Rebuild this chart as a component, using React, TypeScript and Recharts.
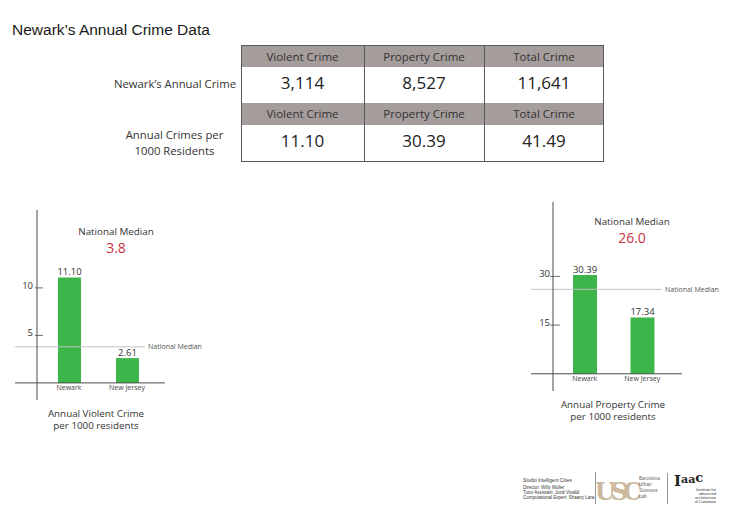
import React from 'react';
import { BarChart, Bar, XAxis, YAxis, ReferenceLine, LabelList } from 'recharts';

const categories = ['Newark', 'New Jersey'];
const violentPer1000 = [11.1, 2.61];
const propertyPer1000 = [30.39, 17.34];
const violentTicks = [5, 10];
const propertyTicks = [15, 30];
const violentMedian = 3.8;
const propertyMedian = 26.0;
const tableHeaders = ['Violent Crime', 'Property Crime', 'Total Crime'];
const annualCrimes = [3114, 8527, 11641];
const crimesPer1000 = [11.1, 30.39, 41.49];

const violentData = categories.map((name, i) => ({ name, value: violentPer1000[i] }));
const propertyData = categories.map((name, i) => ({ name, value: propertyPer1000[i] }));

const FONT = '"Open Sans", "Noto Sans", "DejaVu Sans", sans-serif';
const AXIS = '#4a4a4a';
const GREEN = '#3cb54a';
const RED = '#c4333f';
const TEXT = '#333333';
const HEADER_BG = '#a59c9c';

const makeYTick = (left: number, right: number, gap: number) => (props: any) => {
  const { x, y, payload } = props;
  return (
    <g>
      <line x1={x - left} x2={x + right} y1={y} y2={y} stroke={AXIS} strokeWidth={0.8} />
      <text x={x - gap} y={y + 1} textAnchor="end" fontSize={9.5} fill={TEXT}>
        {payload.value}
      </text>
    </g>
  );
};

const XTick = (props: any) => (
  <text x={props.x} y={props.y - 10} textAnchor="middle" fontSize={7} fill="#444">
    {props.payload.value}
  </text>
);

const baselineShape = (p: any) => (
  <line x1={p.x1 - 22} y1={p.y1} x2={p.x2} y2={p.y2} stroke={AXIS} strokeWidth={1} />
);

const medianShape = (p: any) => (
  <g>
    <line x1={p.x1 - 22} y1={p.y1} x2={p.x2 - 20} y2={p.y2} stroke="#c2c2c2" strokeWidth={1} />
    <text x={p.x2 - 17} y={p.y1 + 2.5} fontSize={7} fill="#555">
      National Median
    </text>
  </g>
);

const fmt2 = (v: any) => Number(v).toFixed(2);

// table geometry
const colX = [241, 364, 484, 604];
const rowY = [45, 67, 103, 125, 162];

export default function App() {
  return (
    <div
      style={{
        position: 'absolute',
        left: 0,
        top: 0,
        width: 730,
        height: 516,
        background: '#fff',
        overflow: 'hidden',
        fontFamily: FONT,
      }}
    >
      <svg width={730} height={516} style={{ position: 'absolute', left: 0, top: 0 }} fontFamily={FONT}>
        <text x={12} y={35} fontFamily='"Liberation Sans", Arial, sans-serif' fontSize={15.5} fill="#1a1a1a">
          Newark’s Annual Crime Data
        </text>

        {/* table */}
        <rect x={colX[0]} y={rowY[0]} width={colX[3] - colX[0]} height={rowY[1] - rowY[0]} fill={HEADER_BG} />
        <rect x={colX[0]} y={rowY[2]} width={colX[3] - colX[0]} height={rowY[3] - rowY[2]} fill={HEADER_BG} />
        <rect x={colX[0] + 0.5} y={rowY[0] + 0.5} width={colX[3] - colX[0] - 1} height={rowY[4] - rowY[0] - 1} fill="none" stroke="#5a5a5a" strokeWidth={1} />
        {[colX[1], colX[2]].map((cx) => (
          <line key={cx} x1={cx + 0.5} x2={cx + 0.5} y1={rowY[0]} y2={rowY[4]} stroke="#5a5a5a" strokeWidth={1} />
        ))}
        {tableHeaders.map((h, i) => (
          <g key={h}>
            <text x={(colX[i] + colX[i + 1]) / 2} y={61} textAnchor="middle" fontSize={11.5} fill={TEXT}>{h}</text>
            <text x={(colX[i] + colX[i + 1]) / 2} y={118} textAnchor="middle" fontSize={11.5} fill={TEXT}>{h}</text>
            <text x={(colX[i] + colX[i + 1]) / 2} y={89} textAnchor="middle" fontSize={17} fill="#222">
              {annualCrimes[i].toLocaleString('en-US')}
            </text>
            <text x={(colX[i] + colX[i + 1]) / 2} y={147} textAnchor="middle" fontSize={17} fill="#222">
              {crimesPer1000[i].toFixed(2)}
            </text>
          </g>
        ))}
        <text x={236} y={88} textAnchor="end" fontSize={11.3} fill={TEXT}>Newark’s Annual Crime</text>
        <text x={174.5} y={139} textAnchor="middle" fontSize={11.3} fill={TEXT}>Annual Crimes per</text>
        <text x={174.5} y={155} textAnchor="middle" fontSize={11.3} fill={TEXT}>1000 Residents</text>

        {/* left chart texts */}
        <text x={116} y={235} textAnchor="middle" fontSize={9.8} fill={TEXT}>National Median</text>
        <text x={116} y={253} textAnchor="middle" fontSize={14} fill={RED}>{violentMedian.toFixed(1)}</text>
        <text x={96} y={417} textAnchor="middle" fontSize={9.8} fill={TEXT}>Annual Violent Crime</text>
        <text x={96} y={429} textAnchor="middle" fontSize={9.8} fill={TEXT}>per 1000 residents</text>

        {/* right chart texts */}
        <text x={632} y={225} textAnchor="middle" fontSize={9.8} fill={TEXT}>National Median</text>
        <text x={632} y={243} textAnchor="middle" fontSize={14} fill={RED}>{propertyMedian.toFixed(1)}</text>
        <text x={613} y={408} textAnchor="middle" fontSize={9.8} fill={TEXT}>Annual Property Crime</text>
        <text x={613} y={420} textAnchor="middle" fontSize={9.8} fill={TEXT}>per 1000 residents</text>

        {/* credits / logos */}
        <g fontFamily='"Liberation Sans", Arial, sans-serif' fill="#333">
          <text x={523} y={482} fontSize={4.8}>Studio Intelligent Cities</text>
          <text x={523} y={489} fontSize={4.5}>Director: Willy Muller</text>
          <text x={523} y={494} fontSize={4.5}>Tutor Assistant: Jordi Vivaldi</text>
          <text x={523} y={499} fontSize={4.5}>Computational Expert: Shaany Lara</text>
        </g>
        <line x1={595.5} x2={595.5} y1={472} y2={504} stroke="#777" strokeWidth={0.8} />
        <text x={616} y={500} textAnchor="middle" fontFamily='"DejaVu Serif", serif' fontWeight="bold" fontSize={24} fill="#cbb89d" letterSpacing={-5}>USC</text>
        <g fontFamily='"Liberation Sans", Arial, sans-serif' fill="#666">
          <text x={639} y={480} fontSize={4.6}>Barcelona</text>
          <text x={639} y={486} fontSize={4.6}>Urban</text>
          <text x={639} y={492} fontSize={4.6}>Sciences</text>
          <text x={639} y={498} fontSize={4.6}>Lab</text>
        </g>
        <line x1={667.5} x2={667.5} y1={473} y2={504} stroke="#777" strokeWidth={0.8} />
        <text x={674} y={486} fontFamily='"DejaVu Serif", serif' fontWeight="bold" fontSize={15} fill="#222">
          I<tspan fontSize={11} dy={-3}>a</tspan><tspan fontSize={11}>a</tspan><tspan fontSize={13} dy={-1}>c</tspan>
        </text>
        <g fontFamily='"Liberation Sans", Arial, sans-serif' fill="#333" textAnchor="end">
          <text x={716} y={491} fontSize={4}>Institute for</text>
          <text x={716} y={495} fontSize={4}>advanced</text>
          <text x={716} y={499} fontSize={4}>architecture</text>
          <text x={716} y={503} fontSize={4}>of Catalonia</text>
        </g>
      </svg>

      <div style={{ position: 'absolute', left: 0, top: 200 }}>
        <BarChart width={240} height={240} data={violentData} margin={{ top: 10, right: 75, bottom: 20, left: 0 }}>
          <XAxis
            dataKey="name"
            height={20}
            axisLine={false}
            tickLine={false}
            tickSize={0}
            tickMargin={0}
            interval={0}
            padding={{ left: 3, right: 9 }}
            tick={XTick}
          />
          <YAxis
            width={37}
            type="number"
            domain={[-1.8, 18.2]}
            ticks={violentTicks}
            allowDataOverflow
            axisLine={{ stroke: AXIS, strokeWidth: 1 }}
            tickLine={false}
            tickSize={0}
            tickMargin={0}
            tick={makeYTick(2, 6, 4)}
          />
          <Bar dataKey="value" fill={GREEN} barSize={23} isAnimationActive={false}>
            <LabelList dataKey="value" position="top" offset={2} formatter={fmt2} fontSize={9.5} fill={TEXT} />
          </Bar>
          <ReferenceLine y={0} shape={baselineShape} />
          <ReferenceLine y={violentMedian} shape={medianShape} />
        </BarChart>
      </div>

      <div style={{ position: 'absolute', left: 500, top: 190 }}>
        <BarChart width={230} height={240} data={propertyData} margin={{ top: 12, right: 48, bottom: 19, left: 0 }}>
          <XAxis
            dataKey="name"
            height={20}
            axisLine={false}
            tickLine={false}
            tickSize={0}
            tickMargin={0}
            interval={0}
            padding={{ left: 3, right: 11 }}
            tick={XTick}
          />
          <YAxis
            width={53}
            type="number"
            domain={[-5.3, 52.9]}
            ticks={propertyTicks}
            allowDataOverflow
            axisLine={{ stroke: AXIS, strokeWidth: 1 }}
            tickLine={false}
            tickSize={0}
            tickMargin={0}
            tick={makeYTick(3, 7, 3)}
          />
          <Bar dataKey="value" fill={GREEN} barSize={24} isAnimationActive={false}>
            <LabelList dataKey="value" position="top" offset={2} formatter={fmt2} fontSize={9.5} fill={TEXT} />
          </Bar>
          <ReferenceLine y={0} shape={baselineShape} />
          <ReferenceLine y={propertyMedian} shape={medianShape} />
        </BarChart>
      </div>
    </div>
  );
}
